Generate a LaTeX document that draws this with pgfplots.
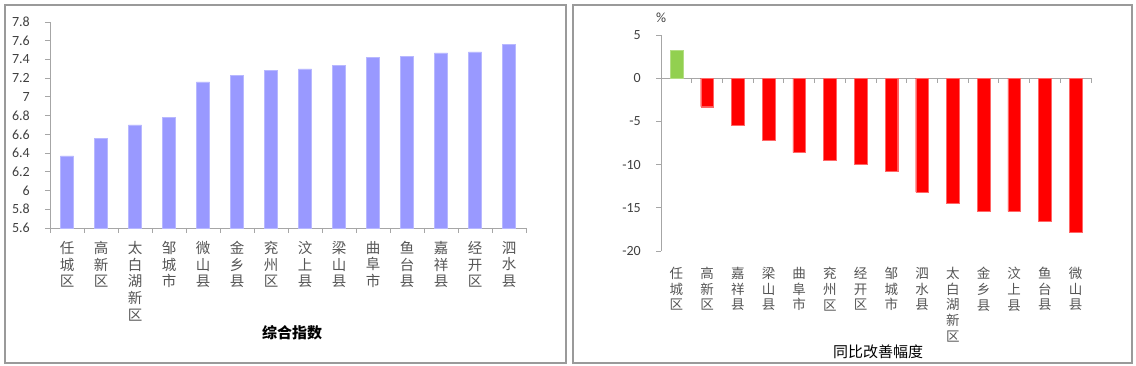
\documentclass[border=0pt]{standalone}
\usepackage{pgfplots}
\pgfplotsset{compat=1.18}
\usepackage{fontspec}
\setmainfont{Carlito}
\newfontfamily\cjk{Noto Sans CJK SC}
\definecolor{barblue}{HTML}{9999FF}
\definecolor{bargreen}{HTML}{92D050}
\definecolor{barred}{HTML}{FF0000}
\definecolor{axgray}{HTML}{A6A6A6}
\definecolor{lblgray}{HTML}{555555}
\definecolor{numgray}{HTML}{404040}
\definecolor{framegray}{HTML}{9A9A9A}

\begin{document}
\begin{tikzpicture}[x=1pt,y=1pt]
\useasboundingbox (0,0) rectangle (1136,-366);
\draw[framegray, line width=1.4pt] (5,-5) rectangle (566,-363);
\draw[framegray, line width=1.4pt] (573,-5) rectangle (1132,-363);

\pgfplotsset{
  common/.style={
    scale only axis,
    ybar, bar shift=0pt,
    xmin=-0.5, xmax=13.5,
    axis y line*=left,
    axis line style={axgray, line width=0.9pt},
    y axis line style={-},
    tick align=outside,
    major tick length=5pt,
    ytick style={axgray, line width=0.9pt},
    xtick style={draw=none},
    xtick={0,...,13},
    /pgf/number format/assume math mode=true,
    yticklabel style={numgray, inner sep=0pt},
    xticklabel style={lblgray, align=center, inner sep=0pt, anchor=north},
    clip=false,
  }
}

% ---------------- left chart
\begin{axis}[common,
  at={(50pt,-228pt)}, anchor=south west,
  width=476pt, height=206pt,
  ymin=5.6, ymax=7.8,
  axis x line*=bottom,
  x axis line style={-},
  ytick={5.6,5.8,6,6.2,6.4,6.6,6.8,7,7.2,7.4,7.6,7.8},
  yticklabel style={font=\fontsize{14}{14}\selectfont, xshift=-15pt},
  xticklabel style={font=\cjk\fontsize{14.5}{16.7}\selectfont, yshift=-8pt},
  xticklabels={{任\\城\\区},{高\\新\\区},{太\\白\\湖\\新\\区},{邹\\城\\市},{微\\山\\县},{金\\乡\\县},{兖\\州\\区},{汶\\上\\县},{梁\\山\\县},{曲\\阜\\市},{鱼\\台\\县},{嘉\\祥\\县},{经\\开\\区},{泗\\水\\县}},
]
\addplot[fill=barblue, draw=barblue!70!white, bar width=13.3pt] coordinates {
(0,6.37) (1,6.56) (2,6.70) (3,6.78) (4,7.16) (5,7.23) (6,7.28)
(7,7.30) (8,7.34) (9,7.42) (10,7.43) (11,7.47) (12,7.48) (13,7.56)};
\pgfplotsinvokeforeach{-0.5,0.5,...,13.5}{
  \draw[axgray, line width=0.9pt] (axis cs:#1,5.6) -- ++(0pt,-5pt);
}
\end{axis}

% ---------------- right chart
\begin{axis}[common,
  at={(661pt,-251pt)}, anchor=south west,
  width=430pt, height=216pt,
  ymin=-20, ymax=5,
  axis x line*=bottom,
  x axis line style={draw=none},
  ytick={-20,-15,-10,-5,0,5},
  yticklabel style={font=\fontsize{14}{14}\selectfont, xshift=-15pt},
  xticklabel style={font=\cjk\fontsize{13.5}{15.7}\selectfont, yshift=-11pt},
  xticklabels={{任\\城\\区},{高\\新\\区},{嘉\\祥\\县},{梁\\山\\县},{曲\\阜\\市},{兖\\州\\区},{经\\开\\区},{邹\\城\\市},{泗\\水\\县},{太\\白\\湖\\新\\区},{金\\乡\\县},{汶\\上\\县},{鱼\\台\\县},{微\\山\\县}},
]
\draw[axgray, line width=0.9pt] (axis cs:-0.5,0) -- (axis cs:13.5,0);
\pgfplotsinvokeforeach{0.5,1.5,...,13.5}{
  \draw[axgray, line width=0.9pt] (axis cs:#1,0) -- ++(0pt,-5pt);
}
\addplot[fill=bargreen, draw=bargreen!70!white, bar width=12.7pt] coordinates {(0,3.2)};
\addplot[fill=barred, draw=barred!60!white, bar width=12.7pt] coordinates {
(1,-3.3) (2,-5.4) (3,-7.2) (4,-8.6) (5,-9.5) (6,-10.0) (7,-10.8)
(8,-13.2) (9,-14.5) (10,-15.4) (11,-15.4) (12,-16.6) (13,-17.8)};
\end{axis}

\node[font=\cjk\bfseries\fontsize{15}{15}\selectfont] at (292,-333) {综合指数};
\node[font=\cjk\fontsize{15}{15}\selectfont] at (878,-352) {同比改善幅度};
\node[font=\fontsize{14}{14}\selectfont, numgray] at (661,-18) {\%};
\end{tikzpicture}
\end{document}
